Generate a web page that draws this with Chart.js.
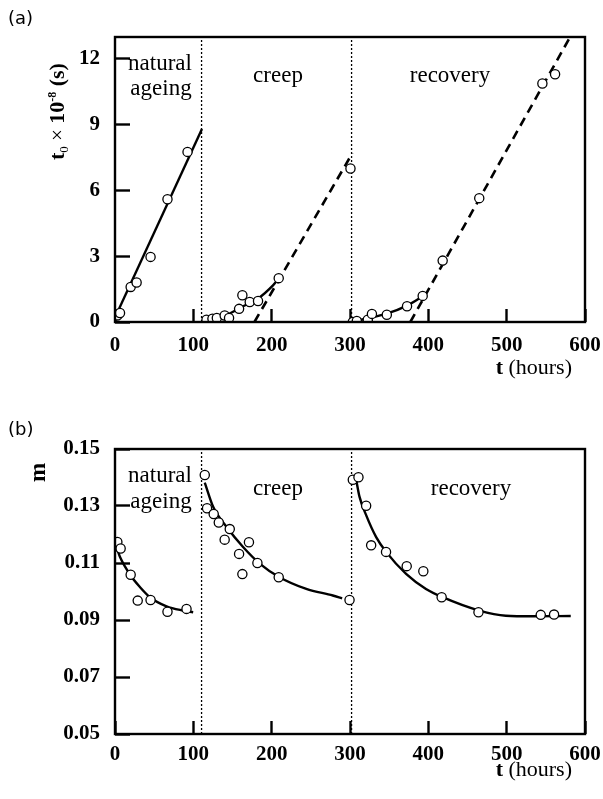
<!DOCTYPE html>
<html>
<head>
<meta charset="utf-8">
<script src="https://cdn.jsdelivr.net/npm/chart.js@4.4.1/dist/chart.umd.min.js"></script>
<style>
  body { margin: 0; background: #fff; }
  #wrap { position: relative; width: 603px; height: 799px; }
  canvas { position: absolute; left: 0; }
  .lbl { position: absolute; left: 8px; font: 18px "DejaVu Sans"; color: #000; z-index: 2; }
</style>
</head>
<body>
<div id="wrap">
  <canvas id="chartA" width="603" height="400" style="top:0"></canvas>
  <canvas id="chartB" width="603" height="399" style="top:400px"></canvas>
  <div class="lbl" style="top:7px">(a)</div>
  <div class="lbl" style="top:418px">(b)</div>
</div>
<script>
// ---- panel (a): t0 x 10^-8 (s) vs t (hours) ----
const ageT = [3, 6.4, 20, 27.6, 45.4, 67, 92.6];
const ageT0 = [0.3, 0.41, 1.6, 1.8, 2.97, 5.6, 7.76];
const creepT = [116.8, 124.4, 130, 140, 145.6, 158.4, 162.6, 172, 182.6, 209, 300.6];
const creepT0 = [0.1, 0.15, 0.18, 0.3, 0.18, 0.6, 1.22, 0.91, 0.96, 2.0, 7.0];
const recT = [303.6, 308.7, 322.7, 328, 347, 372.8, 392.8, 418.3, 465, 545.6, 561.8];
const recT0 = [0, 0.05, 0.1, 0.37, 0.33, 0.72, 1.19, 2.8, 5.65, 10.88, 11.3];

// fitted lines
const ageFitT = [0, 111];
const ageFitT0 = [0.2, 8.8];
const creepFitT = [110.5, 140, 163.5, 182.6, 201.7, 210];
const creepFitT0 = [0, 0.28, 0.72, 1.07, 1.67, 2.02];
const creepDashT = [178, 303];
const creepDashT0 = [0, 7.7];
const recFitT = [301.5, 320, 346, 372.8, 396];
const recFitT0 = [0, 0.15, 0.37, 0.75, 1.25];
const recDashT = [377, 581];
const recDashT0 = [0, 13];

// ---- panel (b): m vs t (hours) ----
const ageMT = [3, 7.2, 20, 29, 45.4, 67, 91.3];
const ageM = [0.1174, 0.1151, 0.1059, 0.0968, 0.0970, 0.0929, 0.0939];
const creepMT = [114.6, 117.5, 126, 132.5, 146.5, 140, 171, 158.4, 181.8, 162.6, 209, 299.4];
const creepM = [0.1409, 0.1292, 0.1272, 0.1242, 0.1219, 0.1182, 0.1173, 0.1132, 0.110, 0.1061, 0.105, 0.097];
const recMT = [303.6, 310.8, 320.6, 327, 346, 372.4, 393.6, 417, 464, 543.5, 560.5];
const recM = [0.1392, 0.1401, 0.1301, 0.1162, 0.1139, 0.1089, 0.1071, 0.098, 0.0927, 0.0918, 0.0919];

const ageMFitT = [3, 6.4, 20, 32, 44.6, 65.8, 87, 99.8];
const ageMFitM = [0.1147, 0.1121, 0.1056, 0.1015, 0.098, 0.0948, 0.0933, 0.0927];
const creepMFitT = [114.6, 125.3, 142.3, 163.5, 184.7, 210, 244.2, 278, 290];
const creepMFitM = [0.1382, 0.1297, 0.1227, 0.1156, 0.1098, 0.105, 0.1009, 0.0986, 0.0976];
const recMFitT = [307.9, 312.1, 320.6, 333.4, 346.1, 371.6, 397, 418.2, 465, 499, 533, 581.8];
const recMFitM = [0.1392, 0.1333, 0.1268, 0.1191, 0.1139, 0.1062, 0.1009, 0.098, 0.0933, 0.0915, 0.0913, 0.0914];

// stage boundaries (hours)
const stageEnds = [110.5, 302];

const xTicks = [0, 100, 200, 300, 400, 500, 600];
const yTicksA = [0, 3, 6, 9, 12];
const yTicksB = [0.05, 0.07, 0.09, 0.11, 0.13, 0.15];
const serif = '"Liberation Serif", "Times New Roman", serif';

const xy = (xs, ys) => xs.map((x, i) => ({ x: x, y: ys[i] }));

function pointSet(data) {
  return {
    type: "scatter", data: data, order: 0,
    pointRadius: 4.6, pointBorderWidth: 1.3,
    pointBackgroundColor: "#fff", pointBorderColor: "#000",
    showLine: false
  };
}

function lineSet(data, dash, smooth) {
  return {
    type: "line", data: data, order: 1,
    borderColor: "#000", borderWidth: dash ? 2.6 : 2.4,
    borderDash: dash ? [9, 6] : [],
    pointRadius: 0, fill: false,
    cubicInterpolationMode: smooth ? "monotone" : "default",
    tension: 0
  };
}

function boundarySet(t, yMin, yMax) {
  return {
    type: "line", data: [{ x: t, y: yMin }, { x: t, y: yMax }], order: 2,
    borderColor: "#000", borderWidth: 1.3, borderDash: [2, 2],
    pointRadius: 0, fill: false
  };
}

// frame, titles and stage names (tick marks come from the scales' own grid, pointing inward)
const framePlugin = {
  id: "frame",
  afterDraw(chart, args, opts) {
    const ctx = chart.ctx;
    const a = chart.chartArea;
    ctx.save();
    ctx.setLineDash([]);
    ctx.strokeStyle = "#000";
    ctx.fillStyle = "#000";
    ctx.lineWidth = 2.4;
    ctx.strokeRect(a.left, a.top, a.right - a.left, a.bottom - a.top);

    // stage names
    ctx.font = "23px " + serif;
    ctx.textAlign = "center";
    ctx.textBaseline = "alphabetic";
    opts.notes.forEach(n => ctx.fillText(n.text, n.x, n.y));

    // x title: bold t + (hours)
    ctx.textAlign = "left";
    ctx.font = "bold 22px " + serif;
    const tw = ctx.measureText("t").width;
    ctx.font = "22px " + serif;
    const hw = ctx.measureText(" (hours)").width;
    const x0 = 572 - tw - hw;
    ctx.font = "bold 22px " + serif;
    ctx.fillText("t", x0, opts.xTitleY);
    ctx.font = "22px " + serif;
    ctx.fillText(" (hours)", x0 + tw, opts.xTitleY);

    // y title, rotated, built from pieces
    ctx.translate(opts.yTitleX, opts.yTitleY);
    ctx.rotate(-Math.PI / 2);
    let cx = 0;
    opts.yTitle.forEach(p => {
      ctx.font = p.font;
      ctx.fillText(p.text, cx, p.dy || 0);
      cx += ctx.measureText(p.text).width;
    });
    ctx.restore();
  }
};

function makeOptions(yMin, yMax, yTicks, yFmt, xPad, xAxisH, frameOpts) {
  return {
    responsive: false,
    animation: false,
    devicePixelRatio: 1,
    layout: { padding: { left: 0, right: 18, top: frameOpts.top, bottom: 0 } },
    plugins: { legend: { display: false }, tooltip: { enabled: false }, frame: frameOpts },
    scales: {
      x: {
        type: "linear", min: 0, max: 600,
        afterBuildTicks: s => { s.ticks = xTicks.map(v => ({ value: v })); },
        afterFit: s => { s.height = xAxisH; s.paddingLeft = 0; s.paddingRight = 0; },
        grid: {
          display: true, drawOnChartArea: false, drawTicks: true,
          tickLength: -13, tickWidth: 2.4, tickColor: "#000", color: "#000"
        },
        border: { display: false },
        ticks: { padding: xPad + 13, color: "#000", font: { family: serif, size: 21, weight: "bold" }, maxRotation: 0, autoSkip: false }
      },
      y: {
        type: "linear", min: yMin, max: yMax,
        afterBuildTicks: s => { s.ticks = yTicks.map(v => ({ value: v })); },
        afterFit: s => { s.width = 115; s.paddingTop = 0; s.paddingBottom = 0; },
        grid: {
          display: true, drawOnChartArea: false, drawTicks: true,
          tickLength: -15, tickWidth: 2.4, tickColor: "#000", color: "#000"
        },
        border: { display: false },
        ticks: {
          padding: 30, color: "#000", autoSkip: false,
          font: { family: serif, size: 21, weight: "bold" },
          callback: yFmt
        }
      }
    }
  };
}

new Chart(document.getElementById("chartA"), {
  data: {
    datasets: [
      pointSet(xy(ageT, ageT0)),
      pointSet(xy(creepT, creepT0)),
      pointSet(xy(recT, recT0)),
      lineSet(xy(ageFitT, ageFitT0), false, false),
      lineSet(xy(creepFitT, creepFitT0), false, true),
      lineSet(xy(creepDashT, creepDashT0), true, false),
      lineSet(xy(recFitT, recFitT0), false, true),
      lineSet(xy(recDashT, recDashT0), true, false),
      boundarySet(stageEnds[0], 0, 13),
      boundarySet(stageEnds[1], 0, 13)
    ]
  },
  options: makeOptions(0, 13, yTicksA, v => v, 11, 78, {
    top: 37,
    notes: [
      { text: "natural", x: 160, y: 70 },
      { text: "ageing", x: 161, y: 95 },
      { text: "creep", x: 278, y: 82 },
      { text: "recovery", x: 450, y: 82 }
    ],
    xTitleY: 374,
    yTitleX: 64, yTitleY: 160,
    yTitle: [
      { text: "t", font: "bold 22px " + serif },
      { text: "0", font: "13px " + serif, dy: 4 },
      { text: " \u00d7 ", font: "21px " + serif },
      { text: "10", font: "bold 22px " + serif },
      { text: "-8", font: "bold 12px " + serif, dy: -8 },
      { text: " (s)", font: "bold 22px " + serif }
    ]
  }),
  plugins: [framePlugin]
});

new Chart(document.getElementById("chartB"), {
  data: {
    datasets: [
      pointSet(xy(ageMT, ageM)),
      pointSet(xy(creepMT, creepM)),
      pointSet(xy(recMT, recM)),
      lineSet(xy(ageMFitT, ageMFitM), false, true),
      lineSet(xy(creepMFitT, creepMFitM), false, true),
      lineSet(xy(recMFitT, recMFitM), false, true),
      boundarySet(stageEnds[0], 0.05, 0.15),
      boundarySet(stageEnds[1], 0.05, 0.15)
    ]
  },
  options: makeOptions(0.05, 0.15, yTicksB, v => v.toFixed(2), 8, 65, {
    top: 49,
    notes: [
      { text: "natural", x: 160, y: 82 },
      { text: "ageing", x: 161, y: 108 },
      { text: "creep", x: 278, y: 95 },
      { text: "recovery", x: 471, y: 95 }
    ],
    xTitleY: 376,
    yTitleX: 45, yTitleY: 82,
    yTitle: [
      { text: "m", font: "bold 23px " + serif }
    ]
  }),
  plugins: [framePlugin]
});
</script>
</body>
</html>
